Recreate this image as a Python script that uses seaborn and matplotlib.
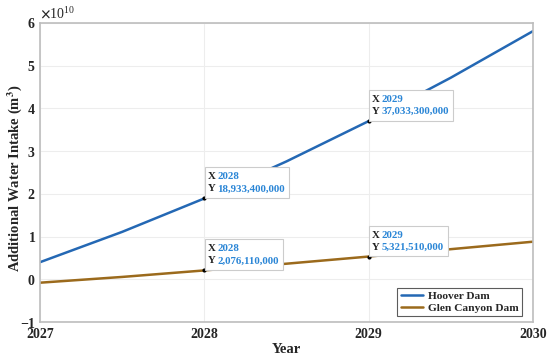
import numpy as np
import pandas as pd
import matplotlib
matplotlib.use("Agg")
import matplotlib.pyplot as plt
from matplotlib.ticker import ScalarFormatter
from matplotlib.patches import Rectangle
from matplotlib.transforms import ScaledTranslation
import seaborn as sns

# values (m^3)
years = [2027, 2027.5, 2028, 2028.5, 2029, 2029.5, 2030]
hoover = [0.40e10, 1.11e10, 1.89334e10, 2.76e10, 3.70333e10, 4.72e10, 5.81e10]
glen = [-0.08e10, 0.055e10, 0.207611e10, 0.365e10, 0.532151e10, 0.705e10, 0.88e10]

tip_years = [2028, 2029]
tip_hoover = [18933400000, 37033300000]
tip_glen = [2076110000, 5321510000]

COLORS = {'Hoover Dam': '#2468b4', 'Glen Canyon Dam': '#9b6a1c'}
TIP_BLUE = '#2b86d6'
SERIF = ['Liberation Serif', 'DejaVu Serif']

sns.set_theme(style='whitegrid')
plt.rcParams['font.family'] = SERIF
plt.rcParams['font.weight'] = 'bold'
plt.rcParams['mathtext.fontset'] = 'stix'

df = pd.DataFrame({
    'Year': years * 2,
    'Intake': hoover + glen,
    'Dam': ['Hoover Dam'] * len(years) + ['Glen Canyon Dam'] * len(years),
})

fig = plt.figure(figsize=(5.5, 3.58), dpi=100)
ax = fig.add_axes([40 / 550, 36 / 358, 493 / 550, 299 / 358])

sns.lineplot(data=df, x='Year', y='Intake', hue='Dam', palette=COLORS,
             linewidth=1.8, ax=ax)

ax.set_xlim(2027, 2030)
ax.set_ylim(-1e10, 6e10)
ax.set_xticks([2027, 2028, 2029, 2030])
ax.set_yticks(np.arange(-1, 7) * 1e10)

fmt = ScalarFormatter(useMathText=True)
fmt.set_scientific(True)
fmt.set_powerlimits((0, 0))
ax.yaxis.set_major_formatter(fmt)
ax.xaxis.set_major_formatter(plt.FuncFormatter(lambda v, p: f'{int(v)}'))

ax.tick_params(axis='y', labelsize=10, length=0, pad=3)
ax.tick_params(axis='x', labelsize=10, length=0, pad=4)
for lab in ax.get_xticklabels() + ax.get_yticklabels():
    lab.set_fontweight('bold')
off = ax.yaxis.get_offset_text()
off.set_fontsize(10)
off.set_fontweight('normal')

ax.grid(True, color='#ededed', linewidth=0.8)
for s in ax.spines.values():
    s.set_color('#bdbdbd')
    s.set_linewidth(1.2)

ax.set_xlabel('Year', fontsize=10.5, fontweight='bold')
ax.set_ylabel('Additional Water Intake (m$^\\mathbf{3}$)', fontsize=10.5,
              fontweight='bold')
ax.xaxis.set_label_coords(0.5, -0.07)
ax.xaxis.label.set_va('top')
ax.yaxis.set_label_coords(-0.033, 0.48)

# data tips: box with its lower-left corner on the point, sized in pixels/100
renderer = fig.canvas.get_renderer()
for vals in (tip_hoover, tip_glen):
    for x, y in zip(tip_years, vals):
        ax.plot(x, y, 'o', color='black', markersize=2, zorder=5)
        tr = fig.dpi_scale_trans + ScaledTranslation(x, y, ax.transData)
        kw = dict(transform=tr, fontsize=7.8, fontweight='bold', va='center',
                  ha='left', zorder=8, clip_on=False)
        ax.text(0.035, 0.215, 'X', color='#222222', **kw)
        ax.text(0.035, 0.095, 'Y', color='#222222', **kw)
        ax.text(0.13, 0.215, f'{x}', color=TIP_BLUE, **kw)
        t = ax.text(0.13, 0.095, f'{y:,}', color=TIP_BLUE, **kw)
        w = t.get_window_extent(renderer).width / fig.dpi
        ax.add_patch(Rectangle((0.005, 0.005), 0.13 + w + 0.035, 0.305,
                               transform=tr, fc='white', ec='#cccccc',
                               lw=0.8, zorder=7, clip_on=False))

leg = ax.legend(loc='lower right', fontsize=8.2, frameon=True, fancybox=False,
                edgecolor='#333333', handlelength=2.0, handletextpad=0.4,
                borderpad=0.3, labelspacing=0.15, borderaxespad=0,
                bbox_to_anchor=(0.978, 0.02))
leg.get_frame().set_linewidth(0.8)
for t in leg.get_texts():
    t.set_fontweight('bold')

fig.savefig('out.png', dpi=100, facecolor='white')
